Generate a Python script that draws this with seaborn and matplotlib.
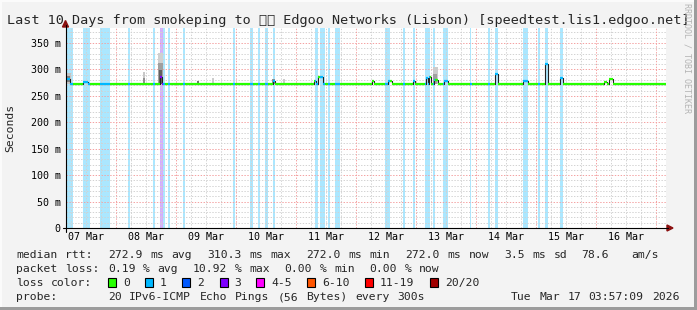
import re
import numpy as np
import pandas as pd
import matplotlib
matplotlib.use("Agg")
import matplotlib.pyplot as plt
from matplotlib.lines import Line2D
from matplotlib.patches import Rectangle, Polygon
import seaborn as sns

# ------------------------------------------------------------------ data
start_h, end_h = 3.95, 243.95          # hours since 07 Mar 00:00
day_labels = ["07 Mar", "08 Mar", "09 Mar", "10 Mar", "11 Mar",
              "12 Mar", "13 Mar", "14 Mar", "15 Mar", "16 Mar"]
day_noon_h = [12, 36, 60, 84, 108, 132, 156, 180, 204, 228]
midnight_h = [24, 48, 72, 96, 120, 144, 168, 192, 216, 240]
y_ticks = [0, 50, 100, 150, 200, 250, 300, 350]
y_tick_labels = ["0", "50 m", "100 m", "150 m", "200 m", "250 m", "300 m", "350 m"]

base_rtt = 272.0  # ms

# loss background bands (hours), loss class index
band_start = [3.95, 10.75, 17.55, 28.75, 38.75, 41.55, 42.75, 44.75, 50.75, 70.75,
              77.55, 80.75, 83.55, 86.75, 103.55, 105.55, 108.75, 111.55, 131.55, 138.75,
              142.75, 147.55, 150.75, 154.75, 165.55, 172.75, 175.55, 186.75, 192.75, 195.55,
              201.55]
band_end = [6.75, 13.55, 21.55, 29.55, 39.55, 42.75, 43.55, 45.55, 51.55, 71.55,
            78.75, 81.55, 84.75, 87.55, 104.75, 107.55, 109.55, 113.55, 133.55, 139.55,
            143.55, 149.55, 151.55, 156.75, 166.35, 173.55, 176.75, 188.75, 193.55, 196.75,
            202.75]
band_loss = [1, 1, 1, 1, 1, 3, 1, 1, 1, 1,
             1, 1, 1, 1, 1, 1, 1, 1, 1, 1,
             1, 1, 1, 1, 1, 1, 1, 1, 1, 1,
             1]

# median rtt excursions above the base line
exc_start = [3.95, 10.75, 41.55, 86.75, 103.15, 104.75, 126.35, 132.75, 142.75, 147.95,
             149.15, 151.15, 155.15, 175.55, 186.75, 195.55, 201.55, 219.15, 221.15]
exc_end = [5.55, 12.75, 42.35, 87.55, 103.95, 106.75, 127.15, 134.35, 143.55, 148.75,
           149.95, 152.75, 156.75, 176.75, 188.75, 196.75, 202.75, 220.35, 222.75]
exc_rtt = [281, 276, 286, 278, 279, 285, 278, 278, 279, 283,
           285, 280, 279, 291, 279, 310.3, 283, 277, 282]

# smoke (ping spread)
smoke_start = [3.95, 3.95, 34.75, 34.75, 40.75, 40.75, 41.15, 56.35, 62.35, 86.35, 90.75, 150.75, 150.75]
smoke_end = [5.95, 5.55, 35.55, 35.55, 42.75, 42.75, 42.35, 57.15, 63.15, 87.55, 91.55, 152.75, 152.35]
smoke_lo = [272, 276, 272, 272, 272, 272, 272, 275, 272, 272, 272, 272, 272]
smoke_hi = [293, 287, 296, 284, 331, 312, 298, 279, 284, 281, 281, 305, 292]
smoke_gray = ["#c4c4c4", "#808080", "#c8c8c8", "#909090", "#d0d0d0", "#a0a0a0", "#606060",
              "#707070", "#cccccc", "#909090", "#cccccc", "#cccccc", "#a0a0a0"]

loss_labels = ["0", "1", "2", "3", "4-5", "6-10", "11-19", "20/20"]
loss_colors = ["#26ff00", "#00b8ff", "#0059ff", "#7e00ff", "#ff00ff", "#ff5500", "#ff0000", "#a10000"]

rtt_avg, rtt_max, rtt_min, rtt_now, rtt_sd, am_s = 272.9, 310.3, 272.0, 272.0, 3.5, 78.6
loss_avg, loss_max, loss_min, loss_now = 0.19, 10.92, 0.00, 0.00
probe_text = "20 IPv6-ICMP Echo Pings (56 Bytes) every 300s"
date_text = "Tue Mar 17 03:57:09 2026"
title_text = "Last 10 Days from smokeping to \U0001F1F5\U0001F1F9 Edgoo Networks (Lisbon) [speedtest.lis1.edgoo.net]"

# ------------------------------------------------------------------ style
sns.set_style("white")
MONO = ["DejaVu Sans Mono", "Noto Sans", "DejaVu Sans"]
plt.rcParams["font.family"] = MONO

W, H = 697, 310
def fx(x): return x / W
def fy(y): return 1 - y / H

fig = plt.figure(figsize=(W / 100, H / 100), dpi=100, facecolor="#f3f3f3")
ax = fig.add_axes([fx(65.5), fy(228), 600 / W, 200 / H])
ax.set_facecolor("white")
ax.set_xlim(start_h, end_h)
ax.set_ylim(0, 378.4)

# loss bands
for s, e, l in zip(band_start, band_end, band_loss):
    ax.axvspan(s, e, color=loss_colors[l], alpha=0.33, lw=0, zorder=0.5)

# grid
for y in range(10, 380, 10):
    if y % 50 == 0:
        ax.axhline(y, color="#f4a0a0", lw=0.7, ls=(0, (1.4, 1.6)), zorder=1)
    else:
        ax.axhline(y, color="#d2d2d2", lw=0.7, ls=(0, (1.4, 1.6)), zorder=1)
for h in np.arange(6, 244, 6):
    if h < start_h:
        continue
    if h % 24 == 0:
        ax.axvline(h, color="#f4a0a0", lw=0.7, ls=(0, (1.4, 1.6)), zorder=1)
    else:
        ax.axvline(h, color="#d2d2d2", lw=0.7, ls=(0, (1.4, 1.6)), zorder=1)

# smoke
for s, e, lo, hi, g in zip(smoke_start, smoke_end, smoke_lo, smoke_hi, smoke_gray):
    ax.fill_between([s, e], [lo, lo], [hi, hi], color=g, lw=0, zorder=2)

# median line segments
bps = sorted(set([start_h, end_h] + exc_start + exc_end + band_start + band_end))
bps = [b for b in bps if start_h <= b <= end_h]
seg_v, seg_c = [], []
for a, b in zip(bps[:-1], bps[1:]):
    m = 0.5 * (a + b)
    v = base_rtt
    for s, e, r in zip(exc_start, exc_end, exc_rtt):
        if s <= m < e:
            v = r
    li = 0
    for s, e, l in zip(band_start, band_end, band_loss):
        if s <= m < e:
            li = l
    seg_v.append(v)
    seg_c.append(loss_colors[li])

med = pd.DataFrame({"t": bps, "v": seg_v + [seg_v[-1]]})
sns.lineplot(data=med, x="t", y="v", drawstyle="steps-post", estimator=None, sort=False,
             color="#222222", linewidth=0.8, ax=ax, zorder=3)
ax.hlines(seg_v, bps[:-1], bps[1:], colors=seg_c, lw=1.6, zorder=4, capstyle="butt")
ax.set_xlabel("")
ax.set_ylabel("")

# axes / ticks
for sp in ax.spines.values():
    sp.set_visible(False)
ax.set_xticks(day_noon_h)
ax.set_xticklabels(day_labels)
ax.set_yticks(y_ticks)
ax.set_yticklabels(y_tick_labels)
ax.tick_params(axis="x", length=0, pad=3.0, labelsize=7.2, colors="black")
ax.tick_params(axis="y", length=2, width=0.7, direction="out", pad=1.5, labelsize=7.2, colors="black")
ax.grid(False)

# axis lines + arrows
fig.add_artist(Line2D([fx(63), fx(668)], [fy(228), fy(228)], color="black", lw=0.8))
fig.add_artist(Line2D([fx(65.5), fx(65.5)], [fy(232), fy(25)], color="black", lw=0.8))
fig.add_artist(Polygon([(fx(667), fy(225)), (fx(667), fy(231)), (fx(673), fy(228))],
                       closed=True, color="#8b1010", transform=fig.transFigure))
fig.add_artist(Polygon([(fx(62.5), fy(27)), (fx(68.5), fy(27)), (fx(65.5), fy(20.5))],
                       closed=True, color="#8b1010", transform=fig.transFigure))

# title, y label, side text
fig.text(fx(348), fy(24), title_text, ha="center", va="baseline", fontsize=9.7, family=MONO)
fig.text(fx(10), fy(128), "Seconds", rotation=90, ha="center", va="center", fontsize=8.2)
fig.text(fx(687.5), fy(58), "RRDTOOL / TOBI OETIKER", rotation=270, ha="center", va="center",
         fontsize=6.0, color="#b4b4b4")

# legend lines, monospaced grid placement
x0, cw = 16, 7.07
def mono_line(s, base_y, size=8.2):
    for m in re.finditer(r"\S+", s):
        fig.text(fx(x0 + m.start() * cw), fy(base_y), m.group(), ha="left", va="baseline",
                 fontsize=size)

line1 = (f"median rtt:  {rtt_avg:.1f} ms avg  {rtt_max:.1f} ms max  {rtt_min:.1f} ms min  "
         f"{rtt_now:.1f} ms now  {rtt_sd:.1f} ms sd  {am_s:.1f}   am/s")
line2 = (f"packet loss: {loss_avg:.2f} % avg  {loss_max:.2f} % max  {loss_min:.2f} % min  "
         f"{loss_now:.2f} % now")
line4 = "probe:       " + probe_text
line4 = line4 + " " * (70 - len(line4)) + date_text
mono_line(line1, 258.3)
mono_line(line2, 272.2)
mono_line("loss color:", 286.1)
mono_line(line4, 300.0)

box_x = [108, 145, 182, 219.5, 256, 307, 365, 430]
lab_x = [123.5, 160, 197, 234, 271, 322, 380, 445]
for bx, lx, lab, col in zip(box_x, lab_x, loss_labels, loss_colors):
    fig.add_artist(Rectangle((fx(bx), fy(286.5)), 8 / W, 8.5 / H, facecolor=col,
                             edgecolor="black", lw=0.8, transform=fig.transFigure))
    fig.text(fx(lx), fy(286.1), lab, ha="left", va="baseline", fontsize=8.2)

# 3D frame
fig.add_artist(Rectangle((0, fy(2)), 1, 2 / H, facecolor="#fbfbfb", lw=0, transform=fig.transFigure))
fig.add_artist(Rectangle((0, 0), 2 / W, 1, facecolor="#fbfbfb", lw=0, transform=fig.transFigure))
fig.add_artist(Rectangle((0, 0), 1, 3 / H, facecolor="#9c9c9c", lw=0, transform=fig.transFigure))
fig.add_artist(Rectangle((fx(694), 0), 3 / W, 1, facecolor="#9c9c9c", lw=0, transform=fig.transFigure))

fig.savefig("out.png", dpi=100, facecolor=fig.get_facecolor())
